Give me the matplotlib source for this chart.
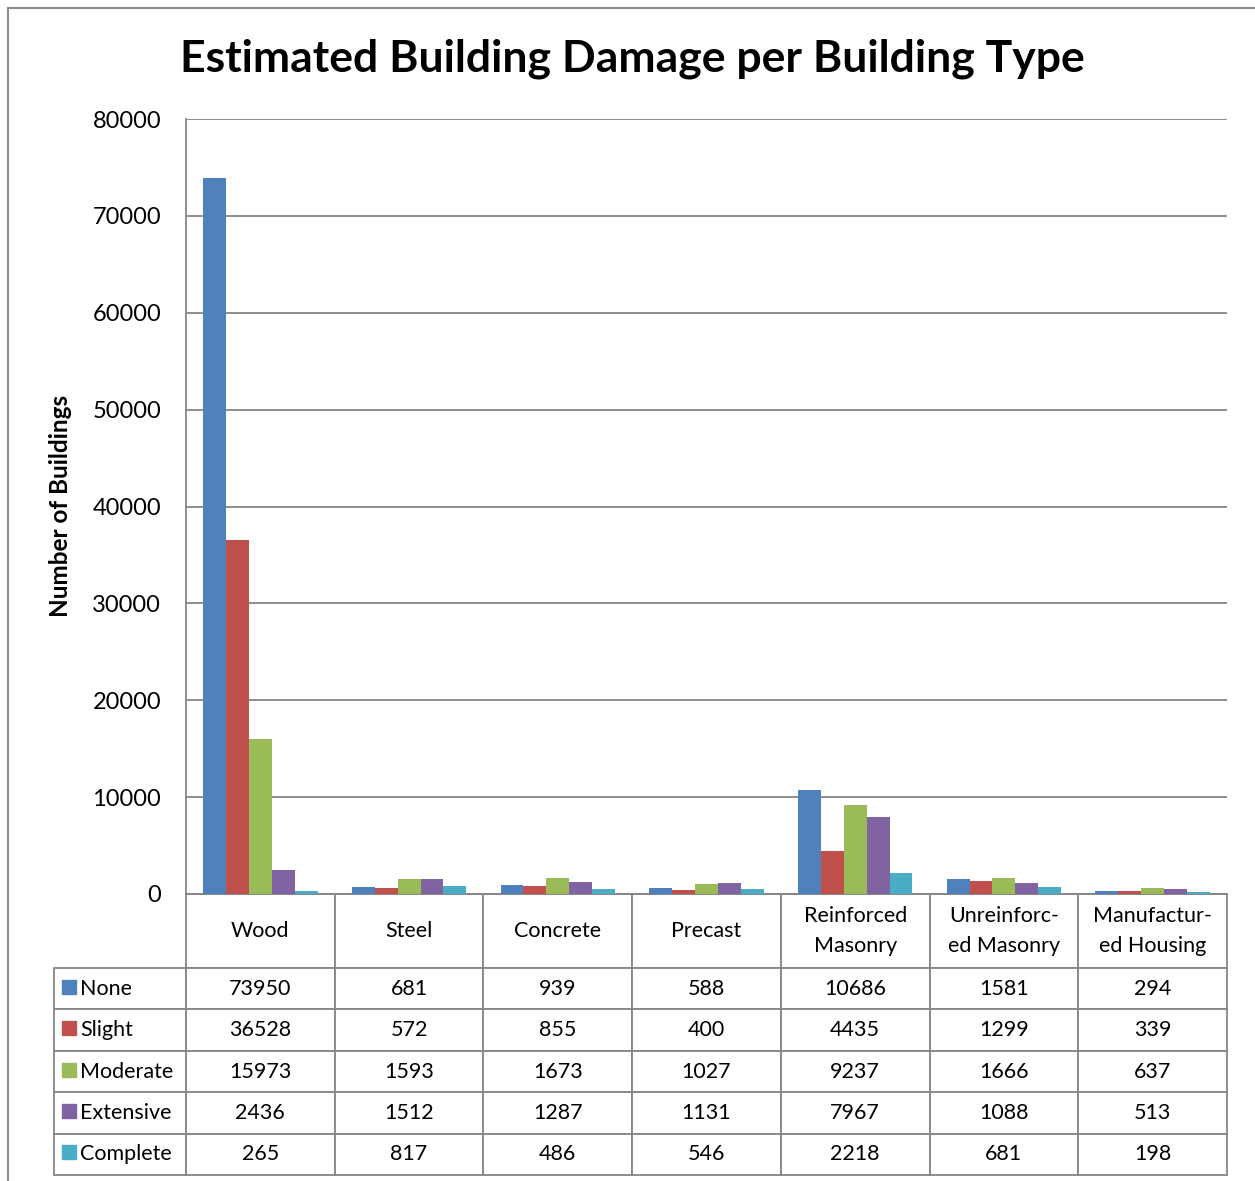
import matplotlib
matplotlib.use('Agg')
import matplotlib.pyplot as plt
from matplotlib.patches import Rectangle
from matplotlib.lines import Line2D
import numpy as np

plt.rcParams['font.family'] = ['Lato', 'DejaVu Sans']

# Data
categories = ['Wood', 'Steel', 'Concrete', 'Precast', 'Reinforced\nMasonry',
              'Unreinforc-\ned Masonry', 'Manufactur-\ned Housing']
damage_states = ['None', 'Slight', 'Moderate', 'Extensive', 'Complete']
none_vals = [73950, 681, 939, 588, 10686, 1581, 294]
slight_vals = [36528, 572, 855, 400, 4435, 1299, 339]
moderate_vals = [15973, 1593, 1673, 1027, 9237, 1666, 637]
extensive_vals = [2436, 1512, 1287, 1131, 7967, 1088, 513]
complete_vals = [265, 817, 486, 546, 2218, 681, 198]
y_ticks = [0, 10000, 20000, 30000, 40000, 50000, 60000, 70000, 80000]

series = [none_vals, slight_vals, moderate_vals, extensive_vals, complete_vals]
colors = ['#4F81BD', '#C0504D', '#9BBB59', '#8064A2', '#4BACC6']

W, H = 1255, 1181
fig = plt.figure(figsize=(W / 100, H / 100), dpi=100)

# axes placement (pixels)
ax_l, ax_r, ax_t, ax_b = 186, 1227, 119, 894
ax = fig.add_axes([ax_l / W, 1 - ax_b / H, (ax_r - ax_l) / W, (ax_b - ax_t) / H])

x = np.arange(len(categories))
bw = 1 / 6.5
for i, (vals, c) in enumerate(zip(series, colors)):
    ax.bar(x + (i - 2) * bw, vals, width=bw, color=c, edgecolor='none', zorder=3)

ax.set_xlim(-0.5, len(categories) - 0.5)
ax.set_ylim(0, 80000)
ax.set_yticks(y_ticks)
ax.set_yticklabels([str(t) for t in y_ticks], fontsize=17)
ax.tick_params(axis='y', length=0, pad=18)
ax.set_xticks([])
ax.grid(True, axis='y', color='#868686', linewidth=1.3, zorder=0)
for s in ['top', 'right']:
    ax.spines[s].set_visible(False)
for s in ['left', 'bottom']:
    ax.spines[s].set_color('#868686')
    ax.spines[s].set_linewidth(1.3)

# data table below the chart
cell_text = [[''] + categories]
for name, vals in zip(damage_states, series):
    cell_text.append([name] + [str(v) for v in vals])

tb_l, tb_b = 54, 1175
tbl = ax.table(cellText=cell_text, cellLoc='center',
               bbox=[(tb_l - ax_l) / (ax_r - ax_l), (ax_b - tb_b) / (ax_b - ax_t),
                     (ax_r - tb_l) / (ax_r - ax_l), (tb_b - ax_b) / (ax_b - ax_t)])
tbl.auto_set_font_size(False)
tbl.set_fontsize(15.5)
for (r, c), cell in tbl.get_celld().items():
    cell.set_edgecolor('#868686')
    cell.set_linewidth(1.3)
    cell.set_width(132 if c == 0 else 148.7)
    cell.set_height(74 if r == 0 else 41.4)
    if r == 0:
        cell.get_text().set_linespacing(1.6)
        if c == 0:
            cell.visible_edges = ''
    if c == 0 and r > 0:
        cell.get_text().set_horizontalalignment('left')
        cell.PAD = 0.2

# legend keys in the row labels
row_h = 41.4
for i, c in enumerate(colors):
    yc = 968 + row_h * (i + 0.5) - 2
    ax.add_patch(Rectangle(((62 - ax_l) / (ax_r - ax_l), (ax_b - yc - 7) / (ax_b - ax_t)),
                           14 / (ax_r - ax_l), 14 / (ax_b - ax_t),
                           transform=ax.transAxes, color=c, clip_on=False, zorder=5))

fig.text(632 / W, 1 - 59 / H, 'Estimated Building Damage per Building Type',
         ha='center', va='center', fontsize=32, fontweight='bold')
fig.text(60 / W, 1 - 506 / H, 'Number of Buildings', rotation=90,
         ha='center', va='center', fontsize=17.5, fontweight='bold')

# chart area border
fig.add_artist(Line2D([8 / W, 1], [1 - 8 / H, 1 - 8 / H], color='#8c8c8c', linewidth=1.5))
fig.add_artist(Line2D([8 / W, 8 / W], [0, 1 - 8 / H], color='#8c8c8c', linewidth=1.5))

fig.savefig('out.png', dpi=100)
